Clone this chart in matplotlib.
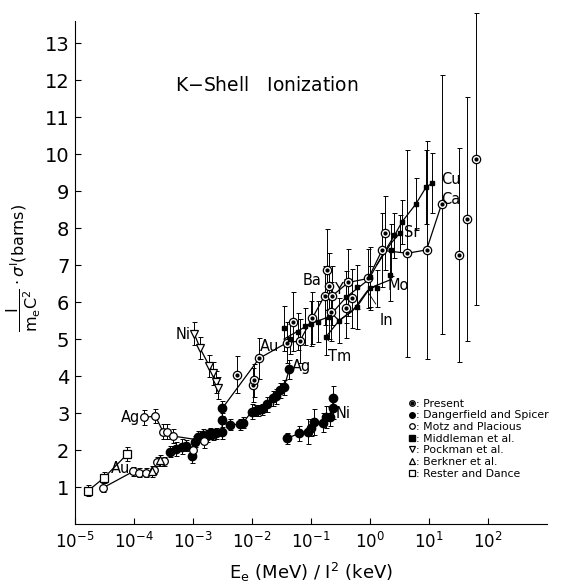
import matplotlib
matplotlib.use("Agg")
import matplotlib.pyplot as plt
import numpy as np

# ---- data ----
# Present (circled dots)
pr_x = [5.6e-3, 0.0105, 0.011, 0.0133, 0.039, 0.05, 0.065, 0.105, 0.17, 0.19, 0.20, 0.23, 0.22,
        0.40, 0.43, 0.49, 0.94, 1.6, 1.8, 4.3, 9.1, 16.4, 32.6, 44.6, 64]
pr_y = [4.03, 3.76, 3.88, 4.48, 4.9, 5.47, 4.95, 5.58, 6.17, 6.88, 6.43, 6.17, 5.74,
        5.83, 6.53, 6.1, 6.64, 7.4, 7.87, 7.32, 7.41, 8.65, 7.27, 8.24, 9.86]
pr_err = [0.5, 0.45, 0.45, 0.55, 0.55, 0.8, 0.6, 0.7, 0.8, 1.1, 0.9, 0.8, 0.8,
          0.8, 0.9, 0.8, 0.8, 1.0, 1.0, 2.8, 2.95, 3.5, 2.9, 3.3, 3.95]

# Dangerfield and Spicer (filled circles)
dg_x = [4.1e-4, 5.1e-4, 6.4e-4, 7.5e-4, 9.6e-4, 1.08e-3, 1.23e-3, 1.48e-3, 1.7e-3, 1.95e-3,
        2.2e-3, 2.5e-3, 3.1e-3, 3.15e-3, 3.15e-3, 4.3e-3, 6.3e-3, 7.1e-3, 9.9e-3, 0.0112,
        0.0129, 0.015, 0.0178, 0.023, 0.026, 0.0295, 0.035, 0.043]
dg_y = [1.95, 2.03, 2.09, 2.12, 1.84, 2.22, 2.36, 2.41, 2.38, 2.45,
        2.42, 2.45, 2.5, 2.81, 3.13, 2.68, 2.70, 2.74, 3.04, 3.06,
        3.08, 3.1, 3.24, 3.40, 3.45, 3.62, 3.7, 4.18]
dg_err = [0.15, 0.2, 0.2, 0.15, 0.2, 0.15, 0.15, 0.15, 0.15, 0.15,
          0.15, 0.15, 0.2, 0.2, 0.2, 0.15, 0.15, 0.15, 0.2, 0.15,
          0.15, 0.15, 0.2, 0.2, 0.2, 0.2, 0.2, 0.25]
# Dangerfield and Spicer, Ni
ni_x = [0.04, 0.063, 0.09, 0.102, 0.114, 0.158, 0.18, 0.21, 0.235, 0.235]
ni_y = [2.32, 2.45, 2.5, 2.59, 2.76, 2.74, 2.9, 2.9, 3.13, 3.42]
ni_err = [0.15, 0.2, 0.35, 0.2, 0.35, 0.25, 0.3, 0.25, 0.3, 0.3]

# Motz and Placious (open circles)
mp_au_x = [3.0e-5, 9.7e-5, 1.2e-4, 1.6e-4, 2.2e-4, 2.5e-4, 3.2e-4, 1.0e-3]
mp_au_y = [0.98, 1.42, 1.39, 1.39, 1.46, 1.68, 1.70, 2.0]
mp_ag_x = [1.5e-4, 2.3e-4, 3.1e-4, 3.7e-4, 4.5e-4, 1.55e-3]
mp_ag_y = [2.88, 2.92, 2.5, 2.5, 2.38, 2.25]

# Middleman et al.
mm_x = [0.035, 0.045, 0.06, 0.08, 0.1, 0.13, 0.18, 0.2, 0.3, 0.4, 0.6, 0.6, 1.0, 1.0,
        1.3, 2.2, 2.3, 2.6, 3.2, 3.5, 6.0, 8.9, 11.4]
mm_y = [5.29, 5.0, 5.2, 5.35, 5.42, 5.47, 5.06, 5.6, 5.5, 6.14, 6.41, 5.87, 6.68, 6.38,
        6.37, 6.73, 7.4, 7.8, 7.86, 8.17, 8.65, 9.1, 9.22]
mm_err = [0.6, 0.4, 0.5, 0.5, 0.6, 0.55, 0.5, 0.6, 0.6, 0.7, 0.6, 0.6, 0.8, 0.6,
          0.5, 0.7, 0.7, 0.6, 0.5, 0.6, 0.7, 1.0, 0.8]

# Pockman et al. (Ni)
pk_x = [1.05e-3, 1.32e-3, 1.9e-3, 2.2e-3, 2.45e-3, 2.7e-3]
pk_y = [5.15, 4.75, 4.27, 4.07, 3.85, 3.67]

# Berkner et al.
bk_x = [2.0e-4, 2.8e-4]
bk_y = [1.42, 1.72]

# Rester and Dance
rd_x = [1.68e-5, 3.1e-5, 7.7e-5]
rd_y = [0.9, 1.25, 1.89]
rd_err = [0.15, 0.15, 0.2]

# connecting curves
au_line_x = [3.15e-3, 0.0133, 0.039, 0.065]
au_line_y = [3.13, 4.48, 4.9, 4.95]
ca_line_x = [0.065, 0.17, 0.23, 0.43, 0.94, 1.6, 4.3, 9.1, 16.4]
ca_line_y = [4.95, 6.17, 6.17, 6.53, 6.64, 7.4, 7.32, 7.41, 8.65]
cu_line_x = [0.035, 0.1, 0.2, 0.4, 0.94, 1.6, 2.6, 3.5, 6.0, 8.9, 11.4]
cu_line_y = [5.0, 5.42, 5.6, 6.14, 6.6, 7.25, 7.8, 8.17, 8.65, 9.1, 9.22]
sr_line_x = [1.3, 2.3, 3.2]
sr_line_y = [7.0, 7.6, 7.86]
mo_line_x = [0.18, 0.3, 0.6, 1.0, 2.2]
mo_line_y = [5.06, 5.5, 5.87, 6.38, 6.6]
in_line_x = [0.19, 0.3, 0.5, 0.9, 1.3]
in_line_y = [5.8, 5.5, 5.75, 6.3, 6.45]

xtick_vals = [1e-5, 1e-4, 1e-3, 1e-2, 1e-1, 1e0, 1e1, 1e2]
xtick_labels = [r'$10^{-5}$', r'$10^{-4}$', r'$10^{-3}$', r'$10^{-2}$', r'$10^{-1}$',
                r'$10^{0}$', r'$10^{1}$', r'$10^{2}$']
ytick_vals = list(range(1, 14))

plt.rcParams['mathtext.fontset'] = 'dejavusans'

fig = plt.figure(figsize=(5.65, 5.86), dpi=100)
ax = fig.add_axes([0.1327, 0.1058, 0.968 - 0.1327, 0.98 - 0.1058])

lw = 0.9
eb = dict(fmt='none', ecolor='black', elinewidth=0.7, capsize=1.8, capthick=0.7)

# lines
ax.plot(au_line_x, au_line_y, color='black', lw=lw)
ax.plot(ca_line_x, ca_line_y, color='black', lw=lw)
ax.plot(cu_line_x, cu_line_y, color='black', lw=lw)
ax.plot(sr_line_x, sr_line_y, color='black', lw=lw)
ax.plot(mo_line_x, mo_line_y, color='black', lw=lw)
ax.plot(in_line_x, in_line_y, color='black', lw=lw)
ax.plot(dg_x[4:15], dg_y[4:15], color='black', lw=lw)
ax.plot(dg_x[15:], dg_y[15:], color='black', lw=lw)
ax.plot(ni_x, ni_y, color='black', lw=lw)
ax.plot(mp_au_x[:2], mp_au_y[:2], color='black', lw=lw)
ax.plot(mp_ag_x, mp_ag_y, color='black', lw=lw)
ax.plot(pk_x, pk_y, color='black', lw=lw)
ax.plot(rd_x, rd_y, color='black', lw=lw)

# error bars
ax.errorbar(pr_x, pr_y, yerr=pr_err, **eb)
ax.errorbar(dg_x, dg_y, yerr=dg_err, **eb)
ax.errorbar(ni_x, ni_y, yerr=ni_err, **eb)
ax.errorbar(mp_au_x, mp_au_y, yerr=0.12, **eb)
ax.errorbar(mp_ag_x, mp_ag_y, yerr=0.2, **eb)
ax.errorbar(mm_x, mm_y, yerr=mm_err, **eb)
ax.errorbar(pk_x, pk_y, yerr=0.3, **eb)
ax.errorbar(bk_x, bk_y, yerr=0.15, **eb)
ax.errorbar(rd_x, rd_y, yerr=rd_err, **eb)

# markers
h_pr1, = ax.plot(pr_x, pr_y, 'o', ms=6, mfc='white', mec='black', mew=0.9, ls='none')
h_pr2, = ax.plot(pr_x, pr_y, 'o', ms=2, color='black', ls='none')
h_dg, = ax.plot(dg_x + ni_x, dg_y + ni_y, 'o', ms=6, color='black', ls='none')
h_mp, = ax.plot(mp_au_x + mp_ag_x, mp_au_y + mp_ag_y, 'o', ms=5.5, mfc='white', mec='black',
                mew=0.9, ls='none')
h_mm, = ax.plot(mm_x, mm_y, 's', ms=2.5, color='black', ls='none')
h_pk, = ax.plot(pk_x, pk_y, 'v', ms=5.5, mfc='white', mec='black', mew=0.9, ls='none')
h_bk, = ax.plot(bk_x, bk_y, '^', ms=5.5, mfc='white', mec='black', mew=0.9, ls='none')
h_rd, = ax.plot(rd_x, rd_y, 's', ms=5.5, mfc='white', mec='black', mew=0.9, ls='none')

# element labels
lab = dict(fontsize=10.5, color='black')
ax.text(0.02, 4.79, 'Au', ha='center', va='center', **lab)
ax.text(0.07, 4.25, 'Ag', ha='center', va='center', **lab)
ax.text(0.35, 2.99, 'Ni', ha='center', va='center', **lab)
ax.text(9.3e-4, 5.13, 'Ni', ha='right', va='center', **lab)
ax.text(1.25e-4, 2.88, 'Ag', ha='right', va='center', **lab)
ax.text(8.6e-5, 1.5, 'Au', ha='right', va='center', **lab)
ax.text(5.2, 7.87, 'Sr', ha='center', va='center', **lab)
ax.text(24, 9.31, 'Cu', ha='center', va='center', **lab)
ax.text(23, 8.77, 'Ca', ha='center', va='center', **lab)
ax.text(3.0, 6.46, 'Mo', ha='center', va='center', **lab)
ax.text(0.29, 6.34, 'Y', ha='center', va='center', **lab)
ax.annotate('Ba', xy=(0.17, 6.17), xytext=(0.103, 6.59), ha='center', va='center',
            arrowprops=dict(arrowstyle='-', lw=0.6, shrinkA=4, shrinkB=3), **lab)
ax.annotate('Tm', xy=(0.18, 5.06), xytext=(0.31, 4.52), ha='center', va='center',
            arrowprops=dict(arrowstyle='-', lw=0.6, shrinkA=5, shrinkB=1), **lab)
ax.annotate('In', xy=(0.9, 6.3), xytext=(1.9, 5.51), ha='center', va='center',
            arrowprops=dict(arrowstyle='-', lw=0.6, shrinkA=5, shrinkB=1), **lab)

ax.text(0.018, 11.86, 'K$-$Shell   Ionization', ha='center', va='center', fontsize=13.5)

# axes styling
ax.set_xscale('log')
ax.set_xlim(1e-5, 1e3)
ax.set_ylim(0, 13.85)
ax.spines['top'].set_visible(False)
ax.spines['right'].set_visible(False)
ax.spines['left'].set_bounds(0, 13.6)
ax.set_xticks(xtick_vals)
ax.set_xticklabels(xtick_labels)
ax.xaxis.set_minor_locator(matplotlib.ticker.NullLocator())
ax.set_yticks(ytick_vals)
ax.set_yticklabels([str(v) for v in ytick_vals])
ax.tick_params(axis='x', direction='in', length=4, labelsize=12, pad=6)
ax.tick_params(axis='y', direction='in', length=4, labelsize=14, pad=4)

ax.set_xlabel(r'E$_{\mathregular{e}}$ (MeV) / I$^{\mathregular{2}}$ (keV)', fontsize=13,
              labelpad=6)
ax.set_ylabel(r'$\dfrac{\mathrm{I}}{\mathrm{m_e C^2}}\cdot\sigma^{\mathrm{I}}$(barns)', fontsize=11.5)
ax.yaxis.set_label_coords(-0.068, 0.5)

leg = ax.legend([(h_pr1, h_pr2), h_dg, h_mp, h_mm, h_pk, h_bk, h_rd],
                [': Present', ': Dangerfield and Spicer', ': Motz and Placious',
                 ': Middleman et al.', ': Pockman et al.', ': Berkner et al.',
                 ': Rester and Dance'],
                loc='upper left', bbox_to_anchor=(0.695, 0.255), frameon=False,
                handlelength=0.6, handletextpad=0.1, labelspacing=0.15, borderpad=0,
                prop={'size': 7.8})
for h in leg.legend_handles:
    if hasattr(h, 'set_markersize'):
        h.set_markersize(4)

fig.savefig('out.png', dpi=100)
